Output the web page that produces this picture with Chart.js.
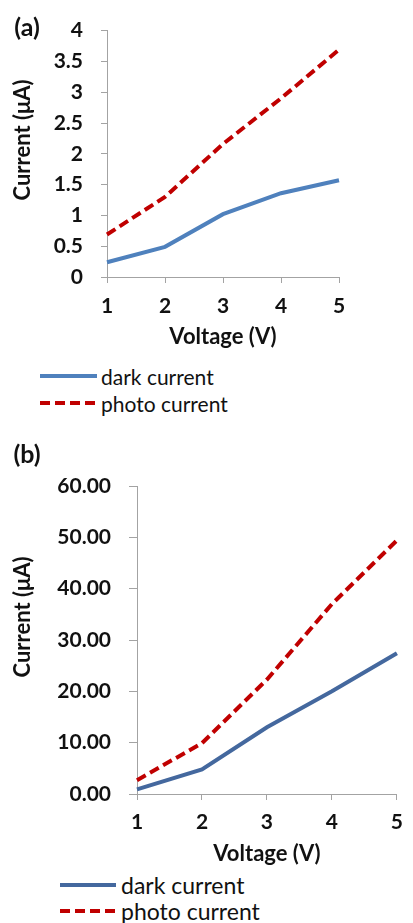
<!DOCTYPE html>
<html><head><meta charset="utf-8">
<script src="https://cdn.jsdelivr.net/npm/chart.js@4.4.1/dist/chart.umd.min.js"></script>
<style>
html,body{margin:0;padding:0;background:#fff;width:413px;height:923px;overflow:hidden;font-family:Lato,"Liberation Sans",sans-serif}
canvas{position:absolute;left:0}
.row{position:absolute;display:flex;align-items:center;white-space:nowrap;color:#111;height:26px}
.row svg{display:block}
</style></head><body>
<canvas id="chartA" width="413" height="355" style="top:0"></canvas>
<canvas id="chartB" width="413" height="440" style="top:430px"></canvas>
<div id="legA"></div><div id="legB"></div>
<script>
// ---- data ----
const voltage = ['1', '2', '3', '4', '5'];
const darkA = [0.24, 0.49, 1.02, 1.36, 1.57];
const photoA = [0.69, 1.30, 2.16, 2.90, 3.69];
const darkB = [0.9, 4.8, 13.0, 20.0, 27.4];
const photoB = [2.7, 9.9, 22.3, 37.0, 49.4];
const seriesNames = ['dark current', 'photo current'];
const panelLabels = ['(a)', '(b)'];
const xTitle = 'Voltage (V)';
const yTitle = 'Current (\u03bcA)';

const FONT = 'Lato, "Liberation Sans", sans-serif';
const AXIS = '#A3A3A3';
const RED = '#C00000';

// draws panel label and rotated y title
const extraText = {
  id: 'extraText',
  afterDraw(chart, args, o) {
    const ctx = chart.ctx;
    ctx.save();
    ctx.fillStyle = '#111';
    ctx.textAlign = 'center';
    ctx.textBaseline = 'middle';
    ctx.font = 'bold ' + o.panelSize + 'px ' + FONT;
    ctx.fillText(o.panel, o.panelX, o.panelY);
    ctx.font = 'bold ' + o.ySize + 'px ' + FONT;
    ctx.translate(o.yX, o.yY);
    ctx.rotate(-Math.PI / 2);
    ctx.fillText(o.yText, 0, 0);
    ctx.restore();
  }
};

function makeChart(id, cfg) {
  return new Chart(document.getElementById(id), {
    type: 'line',
    data: {
      labels: voltage,
      datasets: [
        { label: seriesNames[0], data: cfg.dark, borderColor: cfg.darkColor, borderWidth: cfg.lw, pointRadius: 0, tension: 0, fill: false },
        { label: seriesNames[1], data: cfg.photo, borderColor: RED, borderWidth: cfg.lw, borderDash: cfg.dash, pointRadius: 0, tension: 0, fill: false }
      ]
    },
    options: {
      responsive: false, animation: false, devicePixelRatio: 1,
      layout: { padding: { top: cfg.padTop, right: cfg.padRight, left: 0, bottom: 0 } },
      plugins: {
        legend: { display: false }, tooltip: { enabled: false },
        extraText: { panel: cfg.panel, panelX: 27, panelY: cfg.panelY, panelSize: 25, yText: yTitle, yX: 23, yY: cfg.yTitleY, ySize: 22 }
      },
      scales: {
        x: {
          type: 'category', offset: false,
          grid: { drawOnChartArea: false, drawTicks: true, tickLength: 6, color: AXIS },
          border: { color: AXIS, width: 1 },
          ticks: { color: '#111', font: { family: FONT, size: 21, weight: 'bold' }, padding: cfg.xTickPad, maxRotation: 0 },
          title: { display: true, text: xTitle, color: '#111', font: { family: FONT, size: 22, weight: 'bold' }, padding: { top: 0, bottom: cfg.xTitlePad } },
          afterFit(s) { s.height = cfg.xHeight; }
        },
        y: {
          min: cfg.yMin, max: cfg.yMax,
          grid: { drawOnChartArea: false, drawTicks: true, tickLength: cfg.yTick, color: AXIS },
          border: { color: AXIS, width: 1 },
          ticks: { stepSize: cfg.step, color: '#111', font: { family: FONT, size: 21, weight: 'bold' }, padding: cfg.yTickPad,
                   callback: cfg.fmt },
          afterFit(s) { s.width = cfg.yWidth; }
        }
      }
    },
    plugins: [extraText]
  });
}

const chartA = makeChart('chartA', {
  dark: darkA, photo: photoA, darkColor: '#4F81BD', lw: 4, dash: [10, 5],
  padTop: 25, padRight: 74, xHeight: 78, xTickPad: 11, xTitlePad: 5,
  yMin: 0, yMax: 4, step: 0.5, yTick: 6, yTickPad: 18, yWidth: 107,
  fmt: v => String(v), panel: panelLabels[0], panelY: 28, yTitleY: 140
});
const chartB = makeChart('chartB', {
  dark: darkB, photo: photoB, darkColor: '#44689E', lw: 4, dash: [10, 5],
  padTop: 56, padRight: 6, xHeight: 76, xTickPad: 10, xTitlePad: 3,
  yMin: 0, yMax: 60, step: 10, yTick: 8, yTickPad: 18, yWidth: 137,
  fmt: v => Number(v).toFixed(2), panel: panelLabels[1], panelY: 25, yTitleY: 187
});

function buildLegend(el, chart, opt) {
  chart.data.datasets.forEach((ds, i) => {
    const row = document.createElement('div');
    row.className = 'row';
    row.style.left = opt.x0 + 'px';
    row.style.top = (opt.rows[i] - 13) + 'px';
    row.style.fontSize = opt.size + 'px';
    const w = opt.lineW;
    const dash = ds.borderDash ? ds.borderDash.join(' ') : 'none';
    row.innerHTML = '<svg width="' + (w + opt.gap) + '" height="8"><line x1="0" y1="4" x2="' + w + '" y2="4" stroke="' + ds.borderColor +
      '" stroke-width="4" stroke-dasharray="' + dash + '"/></svg><span>' + ds.label + '</span>';
    el.appendChild(row);
  });
}
buildLegend(document.getElementById('legA'), chartA, { x0: 40, rows: [376, 403], lineW: 57, gap: 4, size: 21 });
buildLegend(document.getElementById('legB'), chartB, { x0: 60, rows: [885, 911], lineW: 56, gap: 5, size: 23 });
</script>
</body></html>
